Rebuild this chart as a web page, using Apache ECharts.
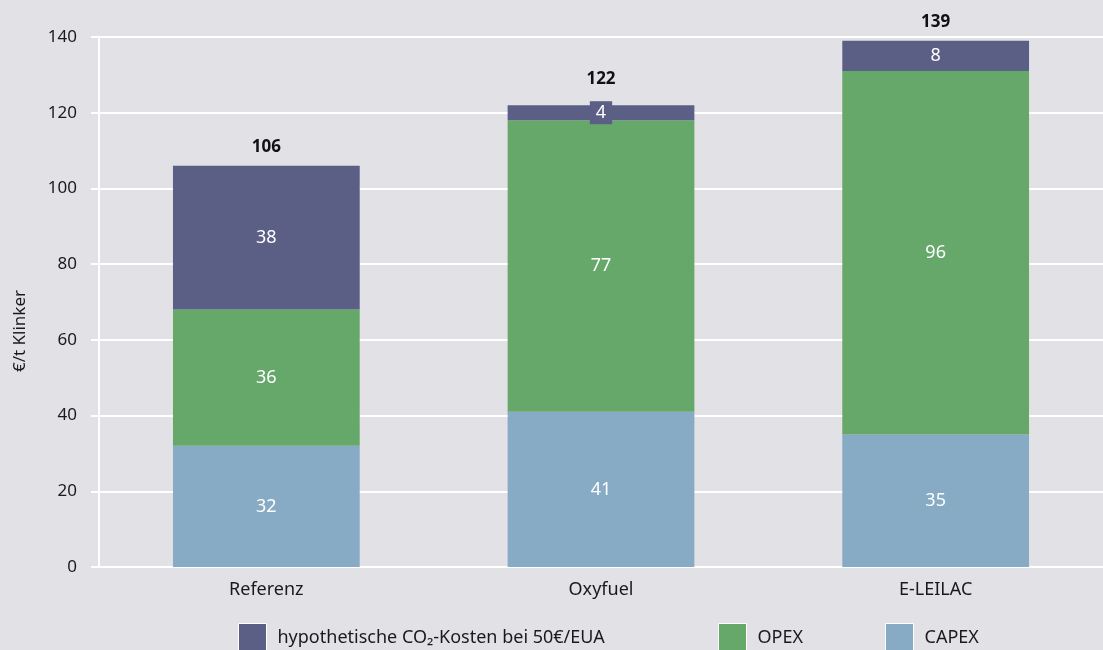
<!DOCTYPE html>
<html>
<head>
<meta charset="utf-8">
<script src="https://cdn.jsdelivr.net/npm/echarts@6/dist/echarts.min.js"></script>
<style>
  html, body { margin: 0; padding: 0; background: #e2e1e6; }
  #chart { width: 1103px; height: 650px; }
</style>
</head>
<body>
<div id="chart"></div>
<script>
// Cost breakdown per tonne of clinker (€/t)
const categories = ['Referenz', 'Oxyfuel', 'E-LEILAC'];
const capex = [32, 41, 35];
const opex = [36, 77, 96];
const co2Costs = [38, 4, 8];
const yTicks = { min: 0, max: 140, interval: 20 };

const seriesNames = {
  co2: 'hypothetische CO\u2082-Kosten bei 50€/EUA',
  opex: 'OPEX',
  capex: 'CAPEX'
};
const colors = { co2: '#5b5f85', opex: '#65a86a', capex: '#87aac5' };
const totals = categories.map((_, i) => capex[i] + opex[i] + co2Costs[i]);

const font = 'Noto Sans';
const innerLabel = {
  show: true, position: 'inside', color: '#ffffff', fontSize: 18, fontFamily: font
};

const chart = echarts.init(document.getElementById('chart'), null, { renderer: 'canvas' });

chart.setOption({
  backgroundColor: '#e2e1e6',
  animation: false,
  grid: { left: 99, right: 0, top: 37, bottom: 83 },
  legend: [
    { data: [seriesNames.co2], left: 233, top: 618 },
    { data: [seriesNames.opex], left: 713, top: 618 },
    { data: [seriesNames.capex], left: 880, top: 618 }
  ].map(l => Object.assign(l, {
    icon: 'rect', itemWidth: 28, itemHeight: 28,
    itemStyle: { borderColor: '#ffffff', borderWidth: 1 },
    textStyle: { fontFamily: font, fontSize: 18, color: '#1a1a1a', padding: [0, 0, 0, 6] }
  })),
  graphic: [{
    type: 'text', rotation: Math.PI / 2,
    x: 20, y: 331,
    style: { text: '€/t Klinker', font: '17px "Noto Sans"', fill: '#1a1a1a',
             textAlign: 'center', textVerticalAlign: 'middle' }
  }],
  xAxis: {
    type: 'category', data: categories,
    axisLine: { show: true, lineStyle: { color: '#ffffff', width: 2 } },
    axisTick: { show: false },
    axisLabel: { color: '#1a1a1a', fontSize: 18, fontFamily: font, margin: 14 }
  },
  yAxis: {
    type: 'value', min: yTicks.min, max: yTicks.max, interval: yTicks.interval,
    axisLine: { show: true, lineStyle: { color: '#ffffff', width: 2 } },
    axisTick: { show: true, length: 8, lineStyle: { color: '#ffffff', width: 2 } },
    splitLine: { lineStyle: { color: '#ffffff', width: 2 } },
    axisLabel: { color: '#1a1a1a', fontSize: 17, fontFamily: font, margin: 22 }
  },
  series: [
    {
      name: seriesNames.capex, type: 'bar', stack: 'cost', data: capex, barWidth: '55.8%',
      itemStyle: { color: colors.capex },
      label: innerLabel
    },
    {
      name: seriesNames.opex, type: 'bar', stack: 'cost', data: opex,
      itemStyle: { color: colors.opex },
      label: innerLabel
    },
    {
      name: seriesNames.co2, type: 'bar', stack: 'cost', data: co2Costs,
      itemStyle: { color: colors.co2 },
      label: Object.assign({}, innerLabel, {
        backgroundColor: colors.co2, padding: [3, 6, 2, 6]
      })
    },
    {
      // zero-height cap carrying the total above each stack
      name: 'Summe', type: 'bar', stack: 'cost',
      data: totals.map(t => (t === 122 ? { value: 0, label: { distance: 17 } } : 0)),
      itemStyle: { color: 'transparent' },
      label: {
        show: true, position: 'top', distance: 10,
        formatter: p => totals[p.dataIndex],
        color: '#111111', fontSize: 17, fontWeight: 'bold', fontFamily: font
      }
    }
  ]
});
</script>
</body>
</html>
